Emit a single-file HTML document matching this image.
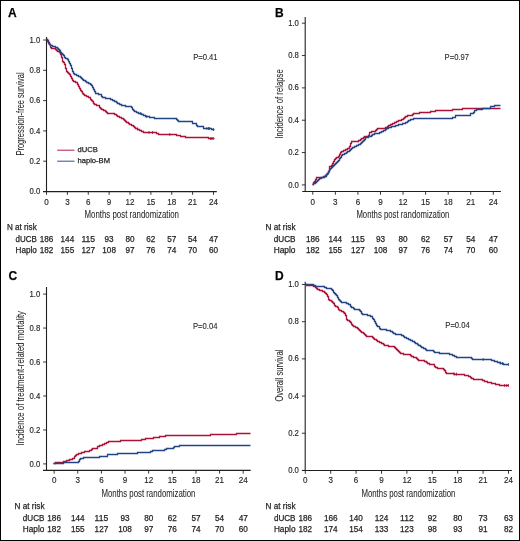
<!DOCTYPE html>
<html><head><meta charset="utf-8"><style>
html,body{margin:0;padding:0;background:#fff;}
body{width:520px;height:541px;overflow:hidden;}
svg{display:block;will-change:transform;}
text{stroke:#231f20;stroke-width:0.25px;font-family:"Liberation Sans",sans-serif;}
</style></head><body>
<svg width="520" height="541" viewBox="0 0 520 541">
<rect x="0.5" y="0.5" width="519" height="540" fill="#fff" stroke="#000" stroke-width="1"/>
<text x="8" y="16.8" font-size="12" font-weight="bold" fill="#000">A</text>
<line x1="46.5" y1="37" x2="46.5" y2="191.6" stroke="#231f20" stroke-width="1.1"/>
<line x1="43.2" y1="191.50" x2="46.5" y2="191.50" stroke="#231f20" stroke-width="0.9"/>
<text x="40.2" y="194.10" font-size="8.6" text-anchor="end" fill="#231f20" style="stroke-width:0.15px" textLength="10.76" lengthAdjust="spacingAndGlyphs">0.0</text>
<line x1="43.2" y1="161.20" x2="46.5" y2="161.20" stroke="#231f20" stroke-width="0.9"/>
<text x="40.2" y="163.80" font-size="8.6" text-anchor="end" fill="#231f20" style="stroke-width:0.15px" textLength="10.76" lengthAdjust="spacingAndGlyphs">0.2</text>
<line x1="43.2" y1="130.90" x2="46.5" y2="130.90" stroke="#231f20" stroke-width="0.9"/>
<text x="40.2" y="133.50" font-size="8.6" text-anchor="end" fill="#231f20" style="stroke-width:0.15px" textLength="10.76" lengthAdjust="spacingAndGlyphs">0.4</text>
<line x1="43.2" y1="100.60" x2="46.5" y2="100.60" stroke="#231f20" stroke-width="0.9"/>
<text x="40.2" y="103.20" font-size="8.6" text-anchor="end" fill="#231f20" style="stroke-width:0.15px" textLength="10.76" lengthAdjust="spacingAndGlyphs">0.6</text>
<line x1="43.2" y1="70.30" x2="46.5" y2="70.30" stroke="#231f20" stroke-width="0.9"/>
<text x="40.2" y="72.90" font-size="8.6" text-anchor="end" fill="#231f20" style="stroke-width:0.15px" textLength="10.76" lengthAdjust="spacingAndGlyphs">0.8</text>
<line x1="43.2" y1="40.00" x2="46.5" y2="40.00" stroke="#231f20" stroke-width="0.9"/>
<text x="40.2" y="42.60" font-size="8.6" text-anchor="end" fill="#231f20" style="stroke-width:0.15px" textLength="10.76" lengthAdjust="spacingAndGlyphs">1.0</text>
<line x1="43" y1="191.6" x2="216.8" y2="191.6" stroke="#231f20" stroke-width="1.1"/>
<line x1="46.50" y1="191.6" x2="46.50" y2="194.79999999999998" stroke="#231f20" stroke-width="0.9"/>
<text x="46.50" y="204.5" font-size="8.8" text-anchor="middle" fill="#231f20" style="stroke-width:0.15px" textLength="4.50" lengthAdjust="spacingAndGlyphs">0</text>
<text x="46.50" y="241.7" font-size="8.6" text-anchor="middle" fill="#231f20" textLength="13.63" lengthAdjust="spacingAndGlyphs">186</text>
<text x="46.50" y="253.0" font-size="8.6" text-anchor="middle" fill="#231f20" textLength="13.63" lengthAdjust="spacingAndGlyphs">182</text>
<line x1="67.38" y1="191.6" x2="67.38" y2="194.79999999999998" stroke="#231f20" stroke-width="0.9"/>
<text x="67.38" y="204.5" font-size="8.8" text-anchor="middle" fill="#231f20" style="stroke-width:0.15px" textLength="4.50" lengthAdjust="spacingAndGlyphs">3</text>
<text x="67.38" y="241.7" font-size="8.6" text-anchor="middle" fill="#231f20" textLength="13.63" lengthAdjust="spacingAndGlyphs">144</text>
<text x="67.38" y="253.0" font-size="8.6" text-anchor="middle" fill="#231f20" textLength="13.63" lengthAdjust="spacingAndGlyphs">155</text>
<line x1="88.25" y1="191.6" x2="88.25" y2="194.79999999999998" stroke="#231f20" stroke-width="0.9"/>
<text x="88.25" y="204.5" font-size="8.8" text-anchor="middle" fill="#231f20" style="stroke-width:0.15px" textLength="4.50" lengthAdjust="spacingAndGlyphs">6</text>
<text x="88.25" y="241.7" font-size="8.6" text-anchor="middle" fill="#231f20" textLength="13.63" lengthAdjust="spacingAndGlyphs">115</text>
<text x="88.25" y="253.0" font-size="8.6" text-anchor="middle" fill="#231f20" textLength="13.63" lengthAdjust="spacingAndGlyphs">127</text>
<line x1="109.12" y1="191.6" x2="109.12" y2="194.79999999999998" stroke="#231f20" stroke-width="0.9"/>
<text x="109.12" y="204.5" font-size="8.8" text-anchor="middle" fill="#231f20" style="stroke-width:0.15px" textLength="4.50" lengthAdjust="spacingAndGlyphs">9</text>
<text x="109.12" y="241.7" font-size="8.6" text-anchor="middle" fill="#231f20" textLength="9.09" lengthAdjust="spacingAndGlyphs">93</text>
<text x="109.12" y="253.0" font-size="8.6" text-anchor="middle" fill="#231f20" textLength="13.63" lengthAdjust="spacingAndGlyphs">108</text>
<line x1="130.00" y1="191.6" x2="130.00" y2="194.79999999999998" stroke="#231f20" stroke-width="0.9"/>
<text x="130.00" y="204.5" font-size="8.8" text-anchor="middle" fill="#231f20" style="stroke-width:0.15px" textLength="9.00" lengthAdjust="spacingAndGlyphs">12</text>
<text x="130.00" y="241.7" font-size="8.6" text-anchor="middle" fill="#231f20" textLength="9.09" lengthAdjust="spacingAndGlyphs">80</text>
<text x="130.00" y="253.0" font-size="8.6" text-anchor="middle" fill="#231f20" textLength="9.09" lengthAdjust="spacingAndGlyphs">97</text>
<line x1="150.88" y1="191.6" x2="150.88" y2="194.79999999999998" stroke="#231f20" stroke-width="0.9"/>
<text x="150.88" y="204.5" font-size="8.8" text-anchor="middle" fill="#231f20" style="stroke-width:0.15px" textLength="9.00" lengthAdjust="spacingAndGlyphs">15</text>
<text x="150.88" y="241.7" font-size="8.6" text-anchor="middle" fill="#231f20" textLength="9.09" lengthAdjust="spacingAndGlyphs">62</text>
<text x="150.88" y="253.0" font-size="8.6" text-anchor="middle" fill="#231f20" textLength="9.09" lengthAdjust="spacingAndGlyphs">76</text>
<line x1="171.75" y1="191.6" x2="171.75" y2="194.79999999999998" stroke="#231f20" stroke-width="0.9"/>
<text x="171.75" y="204.5" font-size="8.8" text-anchor="middle" fill="#231f20" style="stroke-width:0.15px" textLength="9.00" lengthAdjust="spacingAndGlyphs">18</text>
<text x="171.75" y="241.7" font-size="8.6" text-anchor="middle" fill="#231f20" textLength="9.09" lengthAdjust="spacingAndGlyphs">57</text>
<text x="171.75" y="253.0" font-size="8.6" text-anchor="middle" fill="#231f20" textLength="9.09" lengthAdjust="spacingAndGlyphs">74</text>
<line x1="192.62" y1="191.6" x2="192.62" y2="194.79999999999998" stroke="#231f20" stroke-width="0.9"/>
<text x="192.62" y="204.5" font-size="8.8" text-anchor="middle" fill="#231f20" style="stroke-width:0.15px" textLength="9.00" lengthAdjust="spacingAndGlyphs">21</text>
<text x="192.62" y="241.7" font-size="8.6" text-anchor="middle" fill="#231f20" textLength="9.09" lengthAdjust="spacingAndGlyphs">54</text>
<text x="192.62" y="253.0" font-size="8.6" text-anchor="middle" fill="#231f20" textLength="9.09" lengthAdjust="spacingAndGlyphs">70</text>
<line x1="213.50" y1="191.6" x2="213.50" y2="194.79999999999998" stroke="#231f20" stroke-width="0.9"/>
<text x="213.50" y="204.5" font-size="8.8" text-anchor="middle" fill="#231f20" style="stroke-width:0.15px" textLength="9.00" lengthAdjust="spacingAndGlyphs">24</text>
<text x="213.50" y="241.7" font-size="8.6" text-anchor="middle" fill="#231f20" textLength="9.09" lengthAdjust="spacingAndGlyphs">47</text>
<text x="213.50" y="253.0" font-size="8.6" text-anchor="middle" fill="#231f20" textLength="9.09" lengthAdjust="spacingAndGlyphs">60</text>
<text x="131.75" y="218" font-size="10.2" style="stroke-width:0.05px" text-anchor="middle" fill="#231f20" textLength="94.5" lengthAdjust="spacingAndGlyphs">Months post randomization</text>
<text x="21.80" y="229.5" font-size="8.6" text-anchor="middle" fill="#231f20" textLength="29.8" lengthAdjust="spacingAndGlyphs">N at risk</text>
<text x="26.15" y="241.7" font-size="8.6" text-anchor="middle" fill="#231f20" textLength="21.3" lengthAdjust="spacingAndGlyphs">dUCB</text>
<text x="26.15" y="253.0" font-size="8.6" text-anchor="middle" fill="#231f20" textLength="21.3" lengthAdjust="spacingAndGlyphs">Haplo</text>
<text transform="translate(24,114.00) rotate(-90)" x="0" y="0" font-size="10.2" style="stroke-width:0.05px" text-anchor="middle" fill="#231f20" textLength="83.2" lengthAdjust="spacingAndGlyphs">Progression-free survival</text>
<text x="193.2" y="59.5" font-size="8.3" fill="#231f20" style="stroke-width:0.1px" textLength="24.4" lengthAdjust="spacingAndGlyphs">P=0.41</text>
<path d="M46.5,39.5H47.5V40.5H48.5V41.5H48.5V42.5H49.5V43.5H49.5V44.5H50.5V45.5H50.5V46.5H50.5V47.5H51.5V48.5H52.5V48.5H53.5V48.5H54.5V48.5H55.5V49.5H56.5V50.5H57.5V51.5H58.5V51.5H59.5V52.5H60.5V53.5H60.5V54.5H61.5V55.5H61.5V56.5H61.5V57.5H62.5V58.5H62.5V59.5H62.5V60.5H62.5V61.5H63.5V62.5H64.5V62.5H64.5V63.5H64.5V64.5H65.5V65.5H65.5V66.5H65.5V67.5H65.5V68.5H66.5V69.5H66.5V70.5H66.5V71.5H67.5V72.5H68.5V73.5H69.5V74.5H70.5V75.5H70.5V76.5H71.5V77.5H71.5V78.5H72.5V79.5H72.5V80.5H73.5V81.5H74.5V81.5H75.5V82.5H76.5V82.5H77.5V83.5H77.5V84.5H78.5V85.5H78.5V86.5H79.5V87.5H79.5V88.5H80.5V89.5H80.5V90.5H81.5V91.5H82.5V92.5H82.5V93.5H83.5V94.5H84.5V95.5H85.5V95.5H86.5V96.5H87.5V96.5H88.5V97.5H89.5V97.5H90.5V98.5H90.5V99.5H91.5V100.5H92.5V101.5H93.5V102.5H93.5V103.5H94.5V104.5H95.5V104.5H96.5V105.5H97.5V105.5H98.5V105.5H99.5V106.5H99.5V107.5H100.5V108.5H101.5V109.5H102.5V109.5H103.5V110.5H104.5V110.5H105.5V111.5H106.5V112.5H107.5V113.5H108.5V113.5H109.5V113.5H110.5V113.5H111.5V113.5H112.5V113.5H113.5V113.5H114.5V114.5H115.5V114.5H116.5V115.5H117.5V116.5H118.5V116.5H119.5V117.5H120.5V117.5H121.5V118.5H122.5V118.5H123.5V119.5H124.5V120.5H125.5V121.5H126.5V122.5H127.5V122.5H128.5V123.5H129.5V124.5H130.5V124.5H131.5V125.5H132.5V125.5H133.5V126.5H134.5V127.5H135.5V128.5H136.5V128.5H137.5V129.5H138.5V129.5H139.5V130.5H140.5V130.5H141.5V131.5H142.5V131.5H143.5V132.5H144.5V132.5H145.5V132.5H146.5V132.5H147.5V132.5H148.5V132.5H149.5V132.5H150.5V132.5H151.5V132.5H152.5V132.5H153.5V132.5H154.5V132.5H155.5V132.5H156.5V133.5H157.5V133.5H158.5V134.5H159.5V134.5H160.5V134.5H161.5V134.5H162.5V134.5H163.5V134.5H164.5V134.5H165.5V134.5H166.5V134.5H167.5V134.5H168.5V134.5H169.5V134.5H170.5V134.5H171.5V134.5H172.5V134.5H173.5V134.5H174.5V134.5H175.5V134.5H176.5V135.5H177.5V135.5H178.5V135.5H179.5V135.5H180.5V136.5H181.5V136.5H182.5V136.5H183.5V136.5H184.5V136.5H185.5V137.5H186.5V137.5H187.5V137.5H188.5V137.5H189.5V137.5H190.5V137.5H191.5V137.5H192.5V137.5H193.5V137.5H194.5V137.5H195.5V137.5H196.5V137.5H197.5V137.5H198.5V137.5H199.5V137.5H200.5V137.5H201.5V137.5H202.5V137.5H203.5V137.5H204.5V137.5H205.5V137.5H206.5V137.5H207.5V137.5H208.5V138.5H209.5V138.5H210.5V138.5H211.5V138.5H212.5V138.5H213.5V138.5H214.5V138.5" fill="none" stroke="#ad1038" stroke-width="1.3" stroke-linejoin="miter"/>
<path d="M137.5,127.6V130.4M149.0,131.1V133.9M152.5,131.1V133.9M169.8,133.1V135.9M210.6,137.1V139.9M211.8,137.1V139.9M213.1,137.1V139.9" fill="none" stroke="#ad1038" stroke-width="0.9"/>
<path d="M46.5,39.5H47.5V40.5H47.5V41.5H48.5V42.5H48.5V43.5H49.5V44.5H50.5V45.5H51.5V45.5H52.5V46.5H53.5V46.5H54.5V46.5H55.5V47.5H56.5V47.5H57.5V48.5H58.5V49.5H59.5V50.5H60.5V51.5H60.5V52.5H61.5V53.5H62.5V54.5H63.5V55.5H64.5V56.5H64.5V57.5H65.5V58.5H66.5V58.5H67.5V59.5H68.5V60.5H68.5V61.5H69.5V62.5H69.5V63.5H70.5V64.5H70.5V65.5H71.5V66.5H71.5V67.5H71.5V68.5H72.5V69.5H72.5V70.5H72.5V71.5H73.5V72.5H73.5V73.5H74.5V74.5H75.5V74.5H76.5V75.5H77.5V75.5H78.5V76.5H79.5V76.5H80.5V77.5H81.5V78.5H82.5V79.5H83.5V80.5H84.5V80.5H85.5V81.5H86.5V82.5H87.5V82.5H88.5V83.5H89.5V83.5H90.5V84.5H91.5V85.5H92.5V86.5H92.5V87.5H93.5V88.5H93.5V89.5H94.5V90.5H94.5V91.5H95.5V92.5H95.5V93.5H96.5V93.5H97.5V93.5H98.5V94.5H99.5V94.5H100.5V94.5H101.5V95.5H101.5V96.5H102.5V97.5H103.5V97.5H104.5V97.5H105.5V98.5H106.5V98.5H107.5V98.5H108.5V98.5H109.5V98.5H110.5V99.5H111.5V99.5H112.5V100.5H113.5V100.5H114.5V101.5H115.5V101.5H116.5V102.5H117.5V103.5H118.5V103.5H119.5V104.5H120.5V104.5H121.5V105.5H122.5V105.5H123.5V105.5H124.5V105.5H125.5V106.5H126.5V106.5H127.5V106.5H128.5V106.5H129.5V106.5H130.5V106.5H131.5V107.5H132.5V108.5H132.5V109.5H133.5V110.5H134.5V111.5H135.5V111.5H136.5V112.5H137.5V112.5H138.5V113.5H139.5V113.5H140.5V113.5H141.5V114.5H142.5V114.5H143.5V115.5H144.5V115.5H145.5V116.5H146.5V116.5H147.5V116.5H148.5V116.5H149.5V117.5H150.5V117.5H151.5V117.5H152.5V117.5H153.5V117.5H154.5V118.5H155.5V118.5H156.5V118.5H157.5V118.5H158.5V118.5H159.5V118.5H160.5V118.5H161.5V118.5H162.5V118.5H163.5V118.5H164.5V118.5H165.5V118.5H166.5V118.5H167.5V118.5H168.5V118.5H169.5V118.5H170.5V118.5H171.5V118.5H172.5V118.5H173.5V118.5H174.5V118.5H175.5V118.5H176.5V119.5H177.5V120.5H178.5V121.5H179.5V121.5H180.5V121.5H181.5V121.5H182.5V121.5H183.5V121.5H184.5V121.5H185.5V121.5H186.5V121.5H187.5V121.5H188.5V121.5H189.5V121.5H190.5V121.5H191.5V121.5H192.5V121.5H192.5V122.5H192.5V123.5H193.5V123.5H194.5V123.5H195.5V123.5H196.5V124.5H196.5V125.5H197.5V126.5H198.5V126.5H199.5V126.5H200.5V126.5H201.5V126.5H202.5V126.5H203.5V127.5H203.5V128.5H204.5V128.5H205.5V128.5H206.5V128.5H207.5V128.5H208.5V128.5H209.5V128.5H210.5V128.5H211.5V129.5H212.5V129.5H213.5V129.5H214.5V129.5" fill="none" stroke="#234585" stroke-width="1.3" stroke-linejoin="miter"/>
<path d="M140.4,112.1V114.9M146.7,115.3V118.1M206.9,127.1V129.9M208.5,127.1V129.9M209.4,127.1V129.9M213.4,128.1V130.9" fill="none" stroke="#234585" stroke-width="0.9"/>
<text x="275" y="16.5" font-size="12" font-weight="bold" fill="#000">B</text>
<line x1="305.2" y1="17" x2="305.2" y2="191.5" stroke="#231f20" stroke-width="1.1"/>
<line x1="301.9" y1="184.90" x2="305.2" y2="184.90" stroke="#231f20" stroke-width="0.9"/>
<text x="298.9" y="187.50" font-size="8.6" text-anchor="end" fill="#231f20" style="stroke-width:0.15px" textLength="10.76" lengthAdjust="spacingAndGlyphs">0.0</text>
<line x1="301.9" y1="152.56" x2="305.2" y2="152.56" stroke="#231f20" stroke-width="0.9"/>
<text x="298.9" y="155.16" font-size="8.6" text-anchor="end" fill="#231f20" style="stroke-width:0.15px" textLength="10.76" lengthAdjust="spacingAndGlyphs">0.2</text>
<line x1="301.9" y1="120.22" x2="305.2" y2="120.22" stroke="#231f20" stroke-width="0.9"/>
<text x="298.9" y="122.82" font-size="8.6" text-anchor="end" fill="#231f20" style="stroke-width:0.15px" textLength="10.76" lengthAdjust="spacingAndGlyphs">0.4</text>
<line x1="301.9" y1="87.88" x2="305.2" y2="87.88" stroke="#231f20" stroke-width="0.9"/>
<text x="298.9" y="90.48" font-size="8.6" text-anchor="end" fill="#231f20" style="stroke-width:0.15px" textLength="10.76" lengthAdjust="spacingAndGlyphs">0.6</text>
<line x1="301.9" y1="55.54" x2="305.2" y2="55.54" stroke="#231f20" stroke-width="0.9"/>
<text x="298.9" y="58.14" font-size="8.6" text-anchor="end" fill="#231f20" style="stroke-width:0.15px" textLength="10.76" lengthAdjust="spacingAndGlyphs">0.8</text>
<line x1="301.9" y1="23.20" x2="305.2" y2="23.20" stroke="#231f20" stroke-width="0.9"/>
<text x="298.9" y="25.80" font-size="8.6" text-anchor="end" fill="#231f20" style="stroke-width:0.15px" textLength="10.76" lengthAdjust="spacingAndGlyphs">1.0</text>
<line x1="302.2" y1="191.5" x2="500.9" y2="191.5" stroke="#231f20" stroke-width="1.1"/>
<line x1="312.80" y1="191.5" x2="312.80" y2="194.7" stroke="#231f20" stroke-width="0.9"/>
<text x="312.80" y="204.5" font-size="8.8" text-anchor="middle" fill="#231f20" style="stroke-width:0.15px" textLength="4.50" lengthAdjust="spacingAndGlyphs">0</text>
<text x="312.80" y="241.7" font-size="8.6" text-anchor="middle" fill="#231f20" textLength="13.63" lengthAdjust="spacingAndGlyphs">186</text>
<text x="312.80" y="253.0" font-size="8.6" text-anchor="middle" fill="#231f20" textLength="13.63" lengthAdjust="spacingAndGlyphs">182</text>
<line x1="335.36" y1="191.5" x2="335.36" y2="194.7" stroke="#231f20" stroke-width="0.9"/>
<text x="335.36" y="204.5" font-size="8.8" text-anchor="middle" fill="#231f20" style="stroke-width:0.15px" textLength="4.50" lengthAdjust="spacingAndGlyphs">3</text>
<text x="335.36" y="241.7" font-size="8.6" text-anchor="middle" fill="#231f20" textLength="13.63" lengthAdjust="spacingAndGlyphs">144</text>
<text x="335.36" y="253.0" font-size="8.6" text-anchor="middle" fill="#231f20" textLength="13.63" lengthAdjust="spacingAndGlyphs">155</text>
<line x1="357.93" y1="191.5" x2="357.93" y2="194.7" stroke="#231f20" stroke-width="0.9"/>
<text x="357.93" y="204.5" font-size="8.8" text-anchor="middle" fill="#231f20" style="stroke-width:0.15px" textLength="4.50" lengthAdjust="spacingAndGlyphs">6</text>
<text x="357.93" y="241.7" font-size="8.6" text-anchor="middle" fill="#231f20" textLength="13.63" lengthAdjust="spacingAndGlyphs">115</text>
<text x="357.93" y="253.0" font-size="8.6" text-anchor="middle" fill="#231f20" textLength="13.63" lengthAdjust="spacingAndGlyphs">127</text>
<line x1="380.49" y1="191.5" x2="380.49" y2="194.7" stroke="#231f20" stroke-width="0.9"/>
<text x="380.49" y="204.5" font-size="8.8" text-anchor="middle" fill="#231f20" style="stroke-width:0.15px" textLength="4.50" lengthAdjust="spacingAndGlyphs">9</text>
<text x="380.49" y="241.7" font-size="8.6" text-anchor="middle" fill="#231f20" textLength="9.09" lengthAdjust="spacingAndGlyphs">93</text>
<text x="380.49" y="253.0" font-size="8.6" text-anchor="middle" fill="#231f20" textLength="13.63" lengthAdjust="spacingAndGlyphs">108</text>
<line x1="403.05" y1="191.5" x2="403.05" y2="194.7" stroke="#231f20" stroke-width="0.9"/>
<text x="403.05" y="204.5" font-size="8.8" text-anchor="middle" fill="#231f20" style="stroke-width:0.15px" textLength="9.00" lengthAdjust="spacingAndGlyphs">12</text>
<text x="403.05" y="241.7" font-size="8.6" text-anchor="middle" fill="#231f20" textLength="9.09" lengthAdjust="spacingAndGlyphs">80</text>
<text x="403.05" y="253.0" font-size="8.6" text-anchor="middle" fill="#231f20" textLength="9.09" lengthAdjust="spacingAndGlyphs">97</text>
<line x1="425.61" y1="191.5" x2="425.61" y2="194.7" stroke="#231f20" stroke-width="0.9"/>
<text x="425.61" y="204.5" font-size="8.8" text-anchor="middle" fill="#231f20" style="stroke-width:0.15px" textLength="9.00" lengthAdjust="spacingAndGlyphs">15</text>
<text x="425.61" y="241.7" font-size="8.6" text-anchor="middle" fill="#231f20" textLength="9.09" lengthAdjust="spacingAndGlyphs">62</text>
<text x="425.61" y="253.0" font-size="8.6" text-anchor="middle" fill="#231f20" textLength="9.09" lengthAdjust="spacingAndGlyphs">76</text>
<line x1="448.18" y1="191.5" x2="448.18" y2="194.7" stroke="#231f20" stroke-width="0.9"/>
<text x="448.18" y="204.5" font-size="8.8" text-anchor="middle" fill="#231f20" style="stroke-width:0.15px" textLength="9.00" lengthAdjust="spacingAndGlyphs">18</text>
<text x="448.18" y="241.7" font-size="8.6" text-anchor="middle" fill="#231f20" textLength="9.09" lengthAdjust="spacingAndGlyphs">57</text>
<text x="448.18" y="253.0" font-size="8.6" text-anchor="middle" fill="#231f20" textLength="9.09" lengthAdjust="spacingAndGlyphs">74</text>
<line x1="470.74" y1="191.5" x2="470.74" y2="194.7" stroke="#231f20" stroke-width="0.9"/>
<text x="470.74" y="204.5" font-size="8.8" text-anchor="middle" fill="#231f20" style="stroke-width:0.15px" textLength="9.00" lengthAdjust="spacingAndGlyphs">21</text>
<text x="470.74" y="241.7" font-size="8.6" text-anchor="middle" fill="#231f20" textLength="9.09" lengthAdjust="spacingAndGlyphs">54</text>
<text x="470.74" y="253.0" font-size="8.6" text-anchor="middle" fill="#231f20" textLength="9.09" lengthAdjust="spacingAndGlyphs">70</text>
<line x1="493.30" y1="191.5" x2="493.30" y2="194.7" stroke="#231f20" stroke-width="0.9"/>
<text x="493.30" y="204.5" font-size="8.8" text-anchor="middle" fill="#231f20" style="stroke-width:0.15px" textLength="9.00" lengthAdjust="spacingAndGlyphs">24</text>
<text x="493.30" y="241.7" font-size="8.6" text-anchor="middle" fill="#231f20" textLength="9.09" lengthAdjust="spacingAndGlyphs">47</text>
<text x="493.30" y="253.0" font-size="8.6" text-anchor="middle" fill="#231f20" textLength="9.09" lengthAdjust="spacingAndGlyphs">60</text>
<text x="402.90" y="218" font-size="10.2" style="stroke-width:0.05px" text-anchor="middle" fill="#231f20" textLength="93.0" lengthAdjust="spacingAndGlyphs">Months post randomization</text>
<text x="280.52" y="229.5" font-size="8.6" text-anchor="middle" fill="#231f20" textLength="29.9" lengthAdjust="spacingAndGlyphs">N at risk</text>
<text x="284.60" y="241.7" font-size="8.6" text-anchor="middle" fill="#231f20" textLength="21.8" lengthAdjust="spacingAndGlyphs">dUCB</text>
<text x="284.60" y="253.0" font-size="8.6" text-anchor="middle" fill="#231f20" textLength="21.8" lengthAdjust="spacingAndGlyphs">Haplo</text>
<text transform="translate(282.5,103.95) rotate(-90)" x="0" y="0" font-size="10.2" style="stroke-width:0.05px" text-anchor="middle" fill="#231f20" textLength="69.3" lengthAdjust="spacingAndGlyphs">Incidence of relapse</text>
<text x="444.6" y="59.6" font-size="8.3" fill="#231f20" style="stroke-width:0.1px" textLength="24.4" lengthAdjust="spacingAndGlyphs">P=0.97</text>
<path d="M312.5,184.5H313.5V183.5H313.5V182.5H314.5V181.5H315.5V180.5H315.5V179.5H316.5V178.5H316.5V177.5H317.5V177.5H318.5V177.5H319.5V177.5H320.5V177.5H321.5V177.5H322.5V177.5H323.5V176.5H324.5V176.5H325.5V175.5H326.5V174.5H327.5V173.5H328.5V172.5H328.5V171.5H329.5V170.5H329.5V169.5H329.5V168.5H329.5V167.5H329.5V166.5H330.5V166.5H331.5V166.5H331.5V165.5H332.5V164.5H332.5V163.5H333.5V162.5H333.5V161.5H334.5V160.5H334.5V159.5H335.5V158.5H336.5V157.5H337.5V157.5H338.5V156.5H339.5V155.5H339.5V154.5H340.5V153.5H340.5V152.5H341.5V151.5H342.5V151.5H343.5V150.5H344.5V150.5H345.5V149.5H346.5V149.5H347.5V148.5H348.5V148.5H349.5V147.5H349.5V146.5H350.5V145.5H350.5V144.5H350.5V143.5H351.5V142.5H351.5V141.5H352.5V141.5H353.5V141.5H354.5V141.5H355.5V141.5H356.5V141.5H357.5V141.5H358.5V140.5H359.5V140.5H360.5V139.5H361.5V138.5H362.5V138.5H363.5V137.5H364.5V136.5H365.5V136.5H366.5V136.5H367.5V136.5H368.5V136.5H368.5V135.5H369.5V134.5H369.5V133.5H369.5V132.5H370.5V132.5H371.5V131.5H372.5V131.5H373.5V131.5H374.5V131.5H375.5V130.5H376.5V129.5H377.5V128.5H378.5V128.5H379.5V128.5H380.5V128.5H381.5V128.5H382.5V128.5H383.5V128.5H384.5V128.5H385.5V127.5H386.5V127.5H387.5V126.5H388.5V125.5H389.5V125.5H390.5V124.5H391.5V124.5H392.5V123.5H393.5V123.5H394.5V122.5H395.5V122.5H396.5V121.5H397.5V121.5H398.5V120.5H399.5V120.5H400.5V120.5H401.5V119.5H402.5V119.5H403.5V118.5H404.5V117.5H405.5V116.5H406.5V116.5H407.5V115.5H408.5V115.5H409.5V115.5H410.5V115.5H411.5V115.5H412.5V114.5H413.5V113.5H414.5V113.5H415.5V113.5H416.5V113.5H417.5V113.5H418.5V113.5H419.5V112.5H420.5V112.5H421.5V112.5H422.5V112.5H423.5V112.5H424.5V112.5H425.5V112.5H426.5V112.5H427.5V112.5H428.5V112.5H429.5V112.5H430.5V111.5H431.5V111.5H432.5V111.5H433.5V111.5H434.5V111.5H435.5V110.5H436.5V110.5H437.5V110.5H438.5V110.5H439.5V110.5H440.5V110.5H441.5V110.5H442.5V110.5H443.5V110.5H444.5V110.5H445.5V110.5H446.5V110.5H447.5V110.5H448.5V110.5H449.5V110.5H450.5V110.5H451.5V110.5H452.5V109.5H453.5V109.5H454.5V109.5H455.5V109.5H456.5V109.5H457.5V109.5H458.5V109.5H459.5V109.5H460.5V109.5H461.5V109.5H462.5V108.5H463.5V108.5H464.5V108.5H465.5V108.5H466.5V108.5H467.5V108.5H468.5V108.5H469.5V108.5H470.5V108.5H471.5V108.5H472.5V108.5H473.5V108.5H474.5V108.5H475.5V108.5H476.5V108.5H477.5V108.5H478.5V108.5H479.5V108.5H480.5V108.5H481.5V108.5H482.5V108.5H483.5V108.5H484.5V108.5H485.5V108.5H486.5V108.5H487.5V108.5H488.5V108.5H489.5V108.5H490.5V108.5H491.5V108.5H492.5V108.5H493.5V108.5H494.5V108.5H495.5V108.5H496.5V108.5H497.5V108.5H498.5V108.5H499.5V108.5H500.5V108.5" fill="none" stroke="#ad1038" stroke-width="1.3" stroke-linejoin="miter"/>
<path d="M312.5,184.5H313.5V183.5H314.5V183.5H315.5V182.5H316.5V181.5H317.5V180.5H318.5V179.5H319.5V178.5H320.5V178.5H321.5V177.5H322.5V177.5H323.5V177.5H324.5V176.5H325.5V176.5H326.5V175.5H326.5V174.5H327.5V173.5H328.5V172.5H328.5V171.5H329.5V170.5H329.5V169.5H330.5V168.5H331.5V167.5H332.5V166.5H333.5V165.5H334.5V164.5H335.5V163.5H336.5V162.5H337.5V161.5H338.5V160.5H339.5V159.5H339.5V158.5H340.5V157.5H341.5V156.5H341.5V155.5H342.5V154.5H343.5V154.5H344.5V153.5H345.5V153.5H346.5V152.5H347.5V151.5H348.5V151.5H349.5V150.5H350.5V149.5H351.5V148.5H352.5V147.5H353.5V147.5H354.5V146.5H355.5V146.5H356.5V145.5H357.5V145.5H358.5V144.5H359.5V144.5H360.5V143.5H361.5V142.5H362.5V141.5H363.5V140.5H364.5V139.5H365.5V138.5H365.5V137.5H366.5V137.5H367.5V137.5H368.5V136.5H369.5V136.5H370.5V136.5H371.5V135.5H372.5V134.5H373.5V134.5H374.5V133.5H375.5V133.5H376.5V133.5H377.5V133.5H378.5V133.5H379.5V132.5H380.5V132.5H381.5V131.5H382.5V131.5H383.5V130.5H384.5V130.5H385.5V129.5H386.5V128.5H387.5V128.5H388.5V127.5H389.5V127.5H390.5V127.5H391.5V126.5H392.5V126.5H393.5V126.5H394.5V126.5H395.5V125.5H396.5V125.5H397.5V125.5H398.5V124.5H399.5V124.5H400.5V124.5H401.5V124.5H402.5V123.5H403.5V123.5H404.5V123.5H405.5V122.5H406.5V122.5H407.5V121.5H408.5V120.5H409.5V120.5H410.5V119.5H411.5V119.5H412.5V119.5H413.5V118.5H414.5V118.5H415.5V118.5H416.5V118.5H417.5V118.5H418.5V118.5H419.5V118.5H420.5V118.5H421.5V118.5H422.5V118.5H423.5V118.5H424.5V118.5H425.5V118.5H426.5V118.5H427.5V118.5H428.5V118.5H429.5V118.5H430.5V118.5H431.5V118.5H432.5V118.5H433.5V118.5H434.5V118.5H435.5V118.5H436.5V118.5H437.5V118.5H438.5V118.5H439.5V118.5H440.5V118.5H441.5V118.5H442.5V118.5H443.5V118.5H444.5V118.5H445.5V118.5H446.5V118.5H447.5V118.5H448.5V118.5H449.5V118.5H450.5V118.5H451.5V118.5H452.5V117.5H453.5V117.5H454.5V117.5H455.5V116.5H455.5V115.5H456.5V115.5H457.5V115.5H458.5V115.5H459.5V115.5H460.5V115.5H461.5V115.5H462.5V115.5H463.5V115.5H464.5V115.5H465.5V115.5H466.5V115.5H467.5V115.5H468.5V115.5H469.5V115.5H470.5V114.5H470.5V113.5H471.5V113.5H472.5V113.5H473.5V112.5H474.5V111.5H474.5V110.5H475.5V110.5H476.5V109.5H477.5V109.5H478.5V109.5H479.5V109.5H480.5V109.5H481.5V109.5H482.5V108.5H483.5V108.5H484.5V108.5H485.5V108.5H486.5V108.5H487.5V108.5H488.5V108.5H489.5V108.5H490.5V107.5H490.5V106.5H491.5V106.5H492.5V106.5H493.5V106.5H494.5V105.5H495.5V105.5H496.5V105.5H497.5V105.5H498.5V105.5H499.5V105.5H500.5V105.5" fill="none" stroke="#234585" stroke-width="1.3" stroke-linejoin="miter"/>
<text x="8.5" y="280" font-size="12" font-weight="bold" fill="#000">C</text>
<line x1="46.5" y1="287" x2="46.5" y2="470.4" stroke="#231f20" stroke-width="1.1"/>
<line x1="43.2" y1="463.90" x2="46.5" y2="463.90" stroke="#231f20" stroke-width="0.9"/>
<text x="40.2" y="466.50" font-size="8.6" text-anchor="end" fill="#231f20" style="stroke-width:0.15px" textLength="10.76" lengthAdjust="spacingAndGlyphs">0.0</text>
<line x1="43.2" y1="429.94" x2="46.5" y2="429.94" stroke="#231f20" stroke-width="0.9"/>
<text x="40.2" y="432.54" font-size="8.6" text-anchor="end" fill="#231f20" style="stroke-width:0.15px" textLength="10.76" lengthAdjust="spacingAndGlyphs">0.2</text>
<line x1="43.2" y1="395.98" x2="46.5" y2="395.98" stroke="#231f20" stroke-width="0.9"/>
<text x="40.2" y="398.58" font-size="8.6" text-anchor="end" fill="#231f20" style="stroke-width:0.15px" textLength="10.76" lengthAdjust="spacingAndGlyphs">0.4</text>
<line x1="43.2" y1="362.02" x2="46.5" y2="362.02" stroke="#231f20" stroke-width="0.9"/>
<text x="40.2" y="364.62" font-size="8.6" text-anchor="end" fill="#231f20" style="stroke-width:0.15px" textLength="10.76" lengthAdjust="spacingAndGlyphs">0.6</text>
<line x1="43.2" y1="328.06" x2="46.5" y2="328.06" stroke="#231f20" stroke-width="0.9"/>
<text x="40.2" y="330.66" font-size="8.6" text-anchor="end" fill="#231f20" style="stroke-width:0.15px" textLength="10.76" lengthAdjust="spacingAndGlyphs">0.8</text>
<line x1="43.2" y1="294.10" x2="46.5" y2="294.10" stroke="#231f20" stroke-width="0.9"/>
<text x="40.2" y="296.70" font-size="8.6" text-anchor="end" fill="#231f20" style="stroke-width:0.15px" textLength="10.76" lengthAdjust="spacingAndGlyphs">1.0</text>
<line x1="43" y1="470.4" x2="250.7" y2="470.4" stroke="#231f20" stroke-width="1.1"/>
<line x1="54.15" y1="470.4" x2="54.15" y2="473.59999999999997" stroke="#231f20" stroke-width="0.9"/>
<text x="54.15" y="483.2" font-size="8.8" text-anchor="middle" fill="#231f20" style="stroke-width:0.15px" textLength="4.50" lengthAdjust="spacingAndGlyphs">0</text>
<text x="54.15" y="521" font-size="8.6" text-anchor="middle" fill="#231f20" textLength="13.63" lengthAdjust="spacingAndGlyphs">186</text>
<text x="54.15" y="532" font-size="8.6" text-anchor="middle" fill="#231f20" textLength="13.63" lengthAdjust="spacingAndGlyphs">182</text>
<line x1="77.78" y1="470.4" x2="77.78" y2="473.59999999999997" stroke="#231f20" stroke-width="0.9"/>
<text x="77.78" y="483.2" font-size="8.8" text-anchor="middle" fill="#231f20" style="stroke-width:0.15px" textLength="4.50" lengthAdjust="spacingAndGlyphs">3</text>
<text x="77.78" y="521" font-size="8.6" text-anchor="middle" fill="#231f20" textLength="13.63" lengthAdjust="spacingAndGlyphs">144</text>
<text x="77.78" y="532" font-size="8.6" text-anchor="middle" fill="#231f20" textLength="13.63" lengthAdjust="spacingAndGlyphs">155</text>
<line x1="101.41" y1="470.4" x2="101.41" y2="473.59999999999997" stroke="#231f20" stroke-width="0.9"/>
<text x="101.41" y="483.2" font-size="8.8" text-anchor="middle" fill="#231f20" style="stroke-width:0.15px" textLength="4.50" lengthAdjust="spacingAndGlyphs">6</text>
<text x="101.41" y="521" font-size="8.6" text-anchor="middle" fill="#231f20" textLength="13.63" lengthAdjust="spacingAndGlyphs">115</text>
<text x="101.41" y="532" font-size="8.6" text-anchor="middle" fill="#231f20" textLength="13.63" lengthAdjust="spacingAndGlyphs">127</text>
<line x1="125.04" y1="470.4" x2="125.04" y2="473.59999999999997" stroke="#231f20" stroke-width="0.9"/>
<text x="125.04" y="483.2" font-size="8.8" text-anchor="middle" fill="#231f20" style="stroke-width:0.15px" textLength="4.50" lengthAdjust="spacingAndGlyphs">9</text>
<text x="125.04" y="521" font-size="8.6" text-anchor="middle" fill="#231f20" textLength="9.09" lengthAdjust="spacingAndGlyphs">93</text>
<text x="125.04" y="532" font-size="8.6" text-anchor="middle" fill="#231f20" textLength="13.63" lengthAdjust="spacingAndGlyphs">108</text>
<line x1="148.67" y1="470.4" x2="148.67" y2="473.59999999999997" stroke="#231f20" stroke-width="0.9"/>
<text x="148.67" y="483.2" font-size="8.8" text-anchor="middle" fill="#231f20" style="stroke-width:0.15px" textLength="9.00" lengthAdjust="spacingAndGlyphs">12</text>
<text x="148.67" y="521" font-size="8.6" text-anchor="middle" fill="#231f20" textLength="9.09" lengthAdjust="spacingAndGlyphs">80</text>
<text x="148.67" y="532" font-size="8.6" text-anchor="middle" fill="#231f20" textLength="9.09" lengthAdjust="spacingAndGlyphs">97</text>
<line x1="172.31" y1="470.4" x2="172.31" y2="473.59999999999997" stroke="#231f20" stroke-width="0.9"/>
<text x="172.31" y="483.2" font-size="8.8" text-anchor="middle" fill="#231f20" style="stroke-width:0.15px" textLength="9.00" lengthAdjust="spacingAndGlyphs">15</text>
<text x="172.31" y="521" font-size="8.6" text-anchor="middle" fill="#231f20" textLength="9.09" lengthAdjust="spacingAndGlyphs">62</text>
<text x="172.31" y="532" font-size="8.6" text-anchor="middle" fill="#231f20" textLength="9.09" lengthAdjust="spacingAndGlyphs">76</text>
<line x1="195.94" y1="470.4" x2="195.94" y2="473.59999999999997" stroke="#231f20" stroke-width="0.9"/>
<text x="195.94" y="483.2" font-size="8.8" text-anchor="middle" fill="#231f20" style="stroke-width:0.15px" textLength="9.00" lengthAdjust="spacingAndGlyphs">18</text>
<text x="195.94" y="521" font-size="8.6" text-anchor="middle" fill="#231f20" textLength="9.09" lengthAdjust="spacingAndGlyphs">57</text>
<text x="195.94" y="532" font-size="8.6" text-anchor="middle" fill="#231f20" textLength="9.09" lengthAdjust="spacingAndGlyphs">74</text>
<line x1="219.57" y1="470.4" x2="219.57" y2="473.59999999999997" stroke="#231f20" stroke-width="0.9"/>
<text x="219.57" y="483.2" font-size="8.8" text-anchor="middle" fill="#231f20" style="stroke-width:0.15px" textLength="9.00" lengthAdjust="spacingAndGlyphs">21</text>
<text x="219.57" y="521" font-size="8.6" text-anchor="middle" fill="#231f20" textLength="9.09" lengthAdjust="spacingAndGlyphs">54</text>
<text x="219.57" y="532" font-size="8.6" text-anchor="middle" fill="#231f20" textLength="9.09" lengthAdjust="spacingAndGlyphs">70</text>
<line x1="243.20" y1="470.4" x2="243.20" y2="473.59999999999997" stroke="#231f20" stroke-width="0.9"/>
<text x="243.20" y="483.2" font-size="8.8" text-anchor="middle" fill="#231f20" style="stroke-width:0.15px" textLength="9.00" lengthAdjust="spacingAndGlyphs">24</text>
<text x="243.20" y="521" font-size="8.6" text-anchor="middle" fill="#231f20" textLength="9.09" lengthAdjust="spacingAndGlyphs">47</text>
<text x="243.20" y="532" font-size="8.6" text-anchor="middle" fill="#231f20" textLength="9.09" lengthAdjust="spacingAndGlyphs">60</text>
<text x="148.45" y="497" font-size="10.2" style="stroke-width:0.05px" text-anchor="middle" fill="#231f20" textLength="94.1" lengthAdjust="spacingAndGlyphs">Months post randomization</text>
<text x="29.50" y="509.2" font-size="8.6" text-anchor="middle" fill="#231f20" textLength="30.0" lengthAdjust="spacingAndGlyphs">N at risk</text>
<text x="33.60" y="521" font-size="8.6" text-anchor="middle" fill="#231f20" textLength="21.6" lengthAdjust="spacingAndGlyphs">dUCB</text>
<text x="33.60" y="532" font-size="8.6" text-anchor="middle" fill="#231f20" textLength="21.6" lengthAdjust="spacingAndGlyphs">Haplo</text>
<text transform="translate(23.7,378.27) rotate(-90)" x="0" y="0" font-size="10.2" style="stroke-width:0.05px" text-anchor="middle" fill="#231f20" textLength="134.5" lengthAdjust="spacingAndGlyphs">Incidence of treatment-related mortality</text>
<text x="193.0" y="329.0" font-size="8.3" fill="#231f20" style="stroke-width:0.1px" textLength="24.4" lengthAdjust="spacingAndGlyphs">P=0.04</text>
<path d="M53.5,463.5H54.5V463.5H55.5V462.5H56.5V462.5H57.5V462.5H58.5V462.5H59.5V462.5H60.5V462.5H61.5V462.5H62.5V462.5H63.5V461.5H64.5V461.5H65.5V461.5H66.5V460.5H67.5V460.5H68.5V460.5H69.5V459.5H70.5V459.5H71.5V459.5H72.5V458.5H73.5V458.5H74.5V457.5H74.5V456.5H75.5V455.5H76.5V454.5H77.5V454.5H78.5V453.5H79.5V453.5H80.5V453.5H81.5V452.5H82.5V452.5H83.5V452.5H84.5V451.5H85.5V451.5H86.5V451.5H87.5V451.5H88.5V451.5H89.5V450.5H90.5V450.5H91.5V449.5H92.5V448.5H93.5V448.5H94.5V448.5H95.5V448.5H96.5V448.5H97.5V447.5H97.5V446.5H98.5V446.5H99.5V445.5H100.5V445.5H101.5V445.5H102.5V444.5H103.5V444.5H104.5V443.5H105.5V443.5H106.5V442.5H107.5V442.5H108.5V441.5H109.5V441.5H110.5V441.5H111.5V441.5H112.5V441.5H113.5V441.5H114.5V441.5H115.5V441.5H116.5V441.5H117.5V441.5H118.5V441.5H119.5V441.5H120.5V440.5H121.5V440.5H122.5V440.5H123.5V440.5H124.5V440.5H125.5V440.5H126.5V440.5H127.5V440.5H128.5V440.5H129.5V440.5H130.5V440.5H131.5V440.5H132.5V440.5H133.5V440.5H134.5V440.5H135.5V440.5H136.5V440.5H137.5V440.5H138.5V440.5H139.5V440.5H140.5V440.5H141.5V439.5H142.5V439.5H143.5V439.5H144.5V439.5H145.5V438.5H146.5V438.5H147.5V438.5H148.5V438.5H149.5V438.5H150.5V438.5H151.5V438.5H152.5V438.5H153.5V437.5H154.5V437.5H155.5V437.5H156.5V437.5H157.5V437.5H158.5V437.5H159.5V436.5H160.5V436.5H161.5V436.5H162.5V436.5H163.5V436.5H164.5V436.5H165.5V435.5H166.5V435.5H167.5V435.5H168.5V435.5H169.5V435.5H170.5V435.5H171.5V435.5H172.5V435.5H173.5V435.5H174.5V435.5H175.5V435.5H176.5V435.5H177.5V435.5H178.5V435.5H179.5V435.5H180.5V435.5H181.5V435.5H182.5V435.5H183.5V435.5H184.5V435.5H185.5V435.5H186.5V435.5H187.5V435.5H188.5V435.5H189.5V435.5H190.5V435.5H191.5V435.5H192.5V435.5H193.5V435.5H194.5V435.5H195.5V435.5H196.5V435.5H197.5V435.5H198.5V435.5H199.5V435.5H200.5V435.5H201.5V435.5H202.5V435.5H203.5V435.5H204.5V435.5H205.5V435.5H206.5V435.5H207.5V435.5H208.5V435.5H209.5V435.5H210.5V435.5H210.5V434.5H211.5V434.5H212.5V434.5H213.5V434.5H214.5V434.5H215.5V434.5H216.5V434.5H217.5V434.5H218.5V434.5H219.5V434.5H220.5V434.5H221.5V434.5H222.5V434.5H223.5V434.5H224.5V434.5H225.5V434.5H226.5V434.5H227.5V434.5H228.5V434.5H229.5V434.5H230.5V434.5H231.5V434.5H232.5V434.5H233.5V434.5H234.5V434.5H235.5V434.5H236.5V434.5H236.5V433.5H237.5V433.5H238.5V433.5H239.5V433.5H240.5V433.5H241.5V433.5H242.5V433.5H243.5V433.5H244.5V433.5H245.5V433.5H246.5V433.5H247.5V433.5H248.5V433.5H249.5V433.5H250.5V433.5" fill="none" stroke="#ad1038" stroke-width="1.3" stroke-linejoin="miter"/>
<path d="M53.5,463.5H54.5V463.5H55.5V463.5H56.5V463.5H57.5V463.5H58.5V463.5H59.5V463.5H60.5V463.5H61.5V463.5H62.5V463.5H63.5V462.5H64.5V462.5H65.5V462.5H66.5V462.5H67.5V462.5H68.5V462.5H69.5V462.5H70.5V462.5H71.5V462.5H72.5V462.5H73.5V462.5H74.5V462.5H75.5V462.5H76.5V462.5H77.5V462.5H78.5V461.5H79.5V460.5H79.5V459.5H80.5V458.5H81.5V458.5H82.5V458.5H83.5V457.5H84.5V457.5H85.5V457.5H86.5V457.5H87.5V457.5H88.5V457.5H89.5V457.5H90.5V457.5H91.5V457.5H92.5V457.5H93.5V457.5H94.5V457.5H95.5V457.5H96.5V457.5H97.5V457.5H98.5V457.5H99.5V456.5H100.5V456.5H101.5V456.5H102.5V456.5H103.5V456.5H104.5V456.5H105.5V456.5H106.5V456.5H107.5V455.5H107.5V454.5H108.5V454.5H109.5V454.5H110.5V454.5H111.5V454.5H112.5V454.5H113.5V454.5H114.5V454.5H115.5V454.5H116.5V454.5H117.5V453.5H118.5V453.5H119.5V453.5H120.5V453.5H121.5V453.5H122.5V453.5H123.5V453.5H124.5V453.5H125.5V453.5H126.5V453.5H127.5V453.5H128.5V453.5H129.5V453.5H130.5V453.5H131.5V453.5H132.5V453.5H133.5V453.5H134.5V453.5H135.5V453.5H136.5V453.5H137.5V453.5H137.5V452.5H138.5V452.5H139.5V452.5H140.5V452.5H141.5V452.5H142.5V452.5H143.5V452.5H144.5V452.5H145.5V452.5H146.5V452.5H147.5V452.5H148.5V452.5H149.5V452.5H150.5V451.5H151.5V451.5H152.5V450.5H153.5V450.5H153.5V450.5H154.5V450.5H155.5V450.5H156.5V450.5H157.5V450.5H158.5V450.5H159.5V450.5H160.5V450.5H161.5V450.5H162.5V450.5H163.5V450.5H164.5V449.5H165.5V449.5H166.5V448.5H167.5V448.5H168.5V448.5H169.5V448.5H170.5V448.5H171.5V448.5H172.5V448.5H173.5V447.5H174.5V446.5H175.5V446.5H176.5V446.5H177.5V446.5H178.5V446.5H179.5V445.5H180.5V445.5H181.5V445.5H182.5V445.5H183.5V445.5H184.5V445.5H185.5V445.5H186.5V445.5H187.5V445.5H188.5V445.5H189.5V445.5H190.5V445.5H191.5V445.5H192.5V445.5H193.5V445.5H194.5V445.5H195.5V445.5H196.5V445.5H197.5V445.5H198.5V445.5H199.5V445.5H200.5V445.5H201.5V445.5H202.5V445.5H203.5V445.5H204.5V445.5H205.5V445.5H206.5V445.5H207.5V445.5H208.5V445.5H209.5V445.5H210.5V445.5H211.5V445.5H212.5V445.5H213.5V445.5H214.5V445.5H215.5V445.5H216.5V445.5H217.5V445.5H218.5V445.5H219.5V445.5H220.5V445.5H221.5V445.5H222.5V445.5H223.5V445.5H224.5V445.5H225.5V445.5H226.5V445.5H227.5V445.5H228.5V445.5H229.5V445.5H230.5V445.5H231.5V445.5H232.5V445.5H233.5V445.5H234.5V445.5H235.5V445.5H236.5V445.5H237.5V445.5H238.5V445.5H239.5V445.5H240.5V445.5H241.5V445.5H242.5V445.5H243.5V445.5H244.5V445.5H245.5V445.5H246.5V445.5H247.5V445.5H248.5V445.5H249.5V445.5H250.5V445.5" fill="none" stroke="#234585" stroke-width="1.3" stroke-linejoin="miter"/>
<text x="275" y="280" font-size="12" font-weight="bold" fill="#000">D</text>
<line x1="305.2" y1="281.7" x2="305.2" y2="470.5" stroke="#231f20" stroke-width="1.1"/>
<line x1="301.9" y1="470.40" x2="305.2" y2="470.40" stroke="#231f20" stroke-width="0.9"/>
<text x="298.9" y="473.00" font-size="8.6" text-anchor="end" fill="#231f20" style="stroke-width:0.15px" textLength="10.76" lengthAdjust="spacingAndGlyphs">0.0</text>
<line x1="301.9" y1="433.22" x2="305.2" y2="433.22" stroke="#231f20" stroke-width="0.9"/>
<text x="298.9" y="435.82" font-size="8.6" text-anchor="end" fill="#231f20" style="stroke-width:0.15px" textLength="10.76" lengthAdjust="spacingAndGlyphs">0.2</text>
<line x1="301.9" y1="396.04" x2="305.2" y2="396.04" stroke="#231f20" stroke-width="0.9"/>
<text x="298.9" y="398.64" font-size="8.6" text-anchor="end" fill="#231f20" style="stroke-width:0.15px" textLength="10.76" lengthAdjust="spacingAndGlyphs">0.4</text>
<line x1="301.9" y1="358.86" x2="305.2" y2="358.86" stroke="#231f20" stroke-width="0.9"/>
<text x="298.9" y="361.46" font-size="8.6" text-anchor="end" fill="#231f20" style="stroke-width:0.15px" textLength="10.76" lengthAdjust="spacingAndGlyphs">0.6</text>
<line x1="301.9" y1="321.68" x2="305.2" y2="321.68" stroke="#231f20" stroke-width="0.9"/>
<text x="298.9" y="324.28" font-size="8.6" text-anchor="end" fill="#231f20" style="stroke-width:0.15px" textLength="10.76" lengthAdjust="spacingAndGlyphs">0.8</text>
<line x1="301.9" y1="284.50" x2="305.2" y2="284.50" stroke="#231f20" stroke-width="0.9"/>
<text x="298.9" y="287.10" font-size="8.6" text-anchor="end" fill="#231f20" style="stroke-width:0.15px" textLength="10.76" lengthAdjust="spacingAndGlyphs">1.0</text>
<line x1="302" y1="470.5" x2="511.9" y2="470.5" stroke="#231f20" stroke-width="1.1"/>
<line x1="305.30" y1="470.5" x2="305.30" y2="473.7" stroke="#231f20" stroke-width="0.9"/>
<text x="305.30" y="483.2" font-size="8.8" text-anchor="middle" fill="#231f20" style="stroke-width:0.15px" textLength="4.50" lengthAdjust="spacingAndGlyphs">0</text>
<text x="305.30" y="521" font-size="8.6" text-anchor="middle" fill="#231f20" textLength="13.63" lengthAdjust="spacingAndGlyphs">186</text>
<text x="305.30" y="532" font-size="8.6" text-anchor="middle" fill="#231f20" textLength="13.63" lengthAdjust="spacingAndGlyphs">182</text>
<line x1="330.70" y1="470.5" x2="330.70" y2="473.7" stroke="#231f20" stroke-width="0.9"/>
<text x="330.70" y="483.2" font-size="8.8" text-anchor="middle" fill="#231f20" style="stroke-width:0.15px" textLength="4.50" lengthAdjust="spacingAndGlyphs">3</text>
<text x="330.70" y="521" font-size="8.6" text-anchor="middle" fill="#231f20" textLength="13.63" lengthAdjust="spacingAndGlyphs">166</text>
<text x="330.70" y="532" font-size="8.6" text-anchor="middle" fill="#231f20" textLength="13.63" lengthAdjust="spacingAndGlyphs">174</text>
<line x1="356.10" y1="470.5" x2="356.10" y2="473.7" stroke="#231f20" stroke-width="0.9"/>
<text x="356.10" y="483.2" font-size="8.8" text-anchor="middle" fill="#231f20" style="stroke-width:0.15px" textLength="4.50" lengthAdjust="spacingAndGlyphs">6</text>
<text x="356.10" y="521" font-size="8.6" text-anchor="middle" fill="#231f20" textLength="13.63" lengthAdjust="spacingAndGlyphs">140</text>
<text x="356.10" y="532" font-size="8.6" text-anchor="middle" fill="#231f20" textLength="13.63" lengthAdjust="spacingAndGlyphs">154</text>
<line x1="381.50" y1="470.5" x2="381.50" y2="473.7" stroke="#231f20" stroke-width="0.9"/>
<text x="381.50" y="483.2" font-size="8.8" text-anchor="middle" fill="#231f20" style="stroke-width:0.15px" textLength="4.50" lengthAdjust="spacingAndGlyphs">9</text>
<text x="381.50" y="521" font-size="8.6" text-anchor="middle" fill="#231f20" textLength="13.63" lengthAdjust="spacingAndGlyphs">124</text>
<text x="381.50" y="532" font-size="8.6" text-anchor="middle" fill="#231f20" textLength="13.63" lengthAdjust="spacingAndGlyphs">133</text>
<line x1="406.90" y1="470.5" x2="406.90" y2="473.7" stroke="#231f20" stroke-width="0.9"/>
<text x="406.90" y="483.2" font-size="8.8" text-anchor="middle" fill="#231f20" style="stroke-width:0.15px" textLength="9.00" lengthAdjust="spacingAndGlyphs">12</text>
<text x="406.90" y="521" font-size="8.6" text-anchor="middle" fill="#231f20" textLength="13.63" lengthAdjust="spacingAndGlyphs">112</text>
<text x="406.90" y="532" font-size="8.6" text-anchor="middle" fill="#231f20" textLength="13.63" lengthAdjust="spacingAndGlyphs">123</text>
<line x1="432.30" y1="470.5" x2="432.30" y2="473.7" stroke="#231f20" stroke-width="0.9"/>
<text x="432.30" y="483.2" font-size="8.8" text-anchor="middle" fill="#231f20" style="stroke-width:0.15px" textLength="9.00" lengthAdjust="spacingAndGlyphs">15</text>
<text x="432.30" y="521" font-size="8.6" text-anchor="middle" fill="#231f20" textLength="9.09" lengthAdjust="spacingAndGlyphs">92</text>
<text x="432.30" y="532" font-size="8.6" text-anchor="middle" fill="#231f20" textLength="9.09" lengthAdjust="spacingAndGlyphs">98</text>
<line x1="457.70" y1="470.5" x2="457.70" y2="473.7" stroke="#231f20" stroke-width="0.9"/>
<text x="457.70" y="483.2" font-size="8.8" text-anchor="middle" fill="#231f20" style="stroke-width:0.15px" textLength="9.00" lengthAdjust="spacingAndGlyphs">18</text>
<text x="457.70" y="521" font-size="8.6" text-anchor="middle" fill="#231f20" textLength="9.09" lengthAdjust="spacingAndGlyphs">80</text>
<text x="457.70" y="532" font-size="8.6" text-anchor="middle" fill="#231f20" textLength="9.09" lengthAdjust="spacingAndGlyphs">93</text>
<line x1="483.10" y1="470.5" x2="483.10" y2="473.7" stroke="#231f20" stroke-width="0.9"/>
<text x="483.10" y="483.2" font-size="8.8" text-anchor="middle" fill="#231f20" style="stroke-width:0.15px" textLength="9.00" lengthAdjust="spacingAndGlyphs">21</text>
<text x="483.10" y="521" font-size="8.6" text-anchor="middle" fill="#231f20" textLength="9.09" lengthAdjust="spacingAndGlyphs">73</text>
<text x="483.10" y="532" font-size="8.6" text-anchor="middle" fill="#231f20" textLength="9.09" lengthAdjust="spacingAndGlyphs">91</text>
<line x1="508.50" y1="470.5" x2="508.50" y2="473.7" stroke="#231f20" stroke-width="0.9"/>
<text x="508.50" y="483.2" font-size="8.8" text-anchor="middle" fill="#231f20" style="stroke-width:0.15px" textLength="9.00" lengthAdjust="spacingAndGlyphs">24</text>
<text x="508.50" y="521" font-size="8.6" text-anchor="middle" fill="#231f20" textLength="9.09" lengthAdjust="spacingAndGlyphs">63</text>
<text x="508.50" y="532" font-size="8.6" text-anchor="middle" fill="#231f20" textLength="9.09" lengthAdjust="spacingAndGlyphs">82</text>
<text x="408.40" y="497" font-size="10.2" style="stroke-width:0.05px" text-anchor="middle" fill="#231f20" textLength="94.0" lengthAdjust="spacingAndGlyphs">Months post randomization</text>
<text x="280.52" y="509.2" font-size="8.6" text-anchor="middle" fill="#231f20" textLength="29.9" lengthAdjust="spacingAndGlyphs">N at risk</text>
<text x="284.70" y="521" font-size="8.6" text-anchor="middle" fill="#231f20" textLength="21.6" lengthAdjust="spacingAndGlyphs">dUCB</text>
<text x="284.70" y="532" font-size="8.6" text-anchor="middle" fill="#231f20" textLength="21.6" lengthAdjust="spacingAndGlyphs">Haplo</text>
<text transform="translate(282.7,375.65) rotate(-90)" x="0" y="0" font-size="10.2" style="stroke-width:0.05px" text-anchor="middle" fill="#231f20" textLength="51.9" lengthAdjust="spacingAndGlyphs">Overall survival</text>
<text x="445.3" y="328.3" font-size="8.3" fill="#231f20" style="stroke-width:0.1px" textLength="24.4" lengthAdjust="spacingAndGlyphs">P=0.04</text>
<path d="M305.5,284.5H306.5V285.5H307.5V285.5H308.5V285.5H309.5V285.5H310.5V285.5H311.5V285.5H312.5V285.5H313.5V286.5H314.5V286.5H315.5V287.5H316.5V288.5H317.5V289.5H318.5V289.5H319.5V290.5H320.5V290.5H321.5V290.5H322.5V291.5H323.5V291.5H324.5V292.5H325.5V293.5H326.5V294.5H327.5V295.5H327.5V296.5H328.5V297.5H328.5V298.5H328.5V299.5H329.5V300.5H330.5V300.5H331.5V301.5H332.5V302.5H333.5V303.5H334.5V304.5H334.5V305.5H335.5V306.5H336.5V306.5H337.5V307.5H338.5V308.5H338.5V309.5H339.5V310.5H340.5V310.5H341.5V311.5H342.5V311.5H343.5V312.5H344.5V313.5H345.5V314.5H345.5V315.5H346.5V316.5H346.5V317.5H346.5V318.5H346.5V319.5H347.5V320.5H348.5V320.5H349.5V321.5H350.5V322.5H351.5V323.5H351.5V324.5H352.5V325.5H353.5V326.5H354.5V326.5H355.5V327.5H356.5V327.5H357.5V328.5H358.5V329.5H359.5V330.5H360.5V331.5H361.5V332.5H362.5V332.5H363.5V333.5H364.5V334.5H365.5V335.5H366.5V336.5H367.5V336.5H368.5V336.5H369.5V336.5H370.5V336.5H371.5V336.5H372.5V337.5H373.5V338.5H374.5V339.5H375.5V339.5H376.5V340.5H377.5V341.5H378.5V341.5H379.5V342.5H380.5V342.5H381.5V343.5H382.5V343.5H383.5V344.5H384.5V345.5H385.5V345.5H386.5V345.5H387.5V345.5H388.5V346.5H389.5V346.5H390.5V346.5H391.5V346.5H392.5V346.5H393.5V346.5H394.5V347.5H395.5V348.5H396.5V349.5H397.5V350.5H398.5V351.5H399.5V352.5H400.5V353.5H401.5V353.5H402.5V353.5H403.5V354.5H404.5V354.5H405.5V354.5H406.5V354.5H407.5V354.5H408.5V354.5H409.5V354.5H410.5V355.5H411.5V356.5H412.5V356.5H413.5V357.5H414.5V357.5H415.5V357.5H416.5V358.5H417.5V359.5H418.5V360.5H419.5V360.5H420.5V360.5H421.5V360.5H422.5V360.5H423.5V360.5H424.5V361.5H425.5V361.5H426.5V362.5H427.5V363.5H428.5V363.5H429.5V364.5H430.5V364.5H431.5V364.5H432.5V364.5H433.5V364.5H434.5V365.5H434.5V366.5H435.5V367.5H436.5V367.5H437.5V368.5H438.5V368.5H439.5V368.5H440.5V368.5H441.5V368.5H442.5V368.5H443.5V369.5H444.5V369.5H444.5V370.5H445.5V371.5H445.5V372.5H446.5V373.5H447.5V373.5H448.5V373.5H449.5V373.5H450.5V373.5H451.5V373.5H452.5V373.5H453.5V373.5H454.5V374.5H455.5V374.5H456.5V374.5H457.5V374.5H458.5V374.5H459.5V374.5H460.5V374.5H461.5V374.5H462.5V374.5H463.5V374.5H464.5V375.5H465.5V375.5H466.5V375.5H467.5V375.5H468.5V376.5H469.5V376.5H470.5V377.5H471.5V378.5H472.5V378.5H473.5V379.5H474.5V379.5H475.5V379.5H476.5V379.5H477.5V379.5H478.5V379.5H479.5V379.5H480.5V379.5H481.5V379.5H482.5V380.5H483.5V380.5H484.5V381.5H485.5V381.5H486.5V381.5H487.5V382.5H488.5V382.5H489.5V382.5H490.5V382.5H491.5V383.5H492.5V383.5H493.5V383.5H494.5V383.5H495.5V384.5H496.5V384.5H497.5V384.5H498.5V384.5H499.5V385.5H500.5V385.5H501.5V385.5H502.5V385.5H503.5V385.5H504.5V385.5H505.5V385.5H506.5V385.5H507.5V385.5H508.5V385.5" fill="none" stroke="#ad1038" stroke-width="1.3" stroke-linejoin="miter"/>
<path d="M453.9,372.6V375.4M456.5,372.7V375.5M504.6,384.1V386.9M506.7,384.1V386.9M508.4,384.1V386.9" fill="none" stroke="#ad1038" stroke-width="0.9"/>
<path d="M305.5,284.5H306.5V284.5H307.5V284.5H308.5V284.5H309.5V284.5H310.5V284.5H311.5V284.5H312.5V284.5H313.5V285.5H314.5V285.5H315.5V286.5H316.5V286.5H317.5V286.5H318.5V286.5H319.5V286.5H320.5V286.5H321.5V286.5H322.5V286.5H323.5V286.5H324.5V287.5H325.5V287.5H326.5V288.5H327.5V288.5H328.5V288.5H329.5V288.5H330.5V288.5H331.5V289.5H332.5V290.5H333.5V291.5H333.5V292.5H334.5V293.5H335.5V294.5H336.5V295.5H337.5V296.5H337.5V297.5H338.5V298.5H338.5V299.5H339.5V300.5H340.5V301.5H341.5V302.5H342.5V302.5H343.5V302.5H344.5V302.5H345.5V302.5H346.5V303.5H347.5V303.5H348.5V304.5H349.5V304.5H350.5V305.5H350.5V306.5H351.5V307.5H352.5V307.5H353.5V308.5H354.5V309.5H355.5V309.5H356.5V309.5H357.5V309.5H358.5V309.5H359.5V310.5H360.5V311.5H361.5V312.5H361.5V313.5H362.5V314.5H363.5V314.5H364.5V314.5H365.5V314.5H366.5V314.5H367.5V315.5H368.5V315.5H369.5V315.5H370.5V316.5H371.5V316.5H372.5V317.5H372.5V318.5H373.5V319.5H374.5V320.5H374.5V321.5H375.5V322.5H375.5V323.5H376.5V324.5H376.5V325.5H377.5V326.5H378.5V326.5H379.5V327.5H379.5V328.5H380.5V329.5H381.5V329.5H382.5V329.5H383.5V329.5H384.5V329.5H385.5V329.5H386.5V330.5H387.5V330.5H388.5V330.5H389.5V330.5H390.5V331.5H391.5V331.5H392.5V332.5H393.5V333.5H394.5V333.5H395.5V334.5H396.5V334.5H397.5V334.5H398.5V334.5H399.5V334.5H400.5V334.5H401.5V335.5H402.5V335.5H403.5V336.5H404.5V337.5H405.5V337.5H406.5V338.5H407.5V338.5H408.5V339.5H409.5V339.5H410.5V340.5H411.5V340.5H412.5V341.5H413.5V341.5H414.5V342.5H415.5V343.5H416.5V343.5H417.5V344.5H418.5V345.5H419.5V345.5H420.5V346.5H421.5V347.5H422.5V347.5H423.5V348.5H424.5V348.5H425.5V349.5H426.5V350.5H427.5V350.5H428.5V350.5H429.5V350.5H430.5V350.5H431.5V350.5H432.5V350.5H433.5V351.5H434.5V352.5H435.5V352.5H436.5V352.5H437.5V352.5H438.5V352.5H439.5V353.5H440.5V353.5H441.5V353.5H442.5V353.5H443.5V353.5H444.5V353.5H445.5V353.5H446.5V353.5H447.5V353.5H448.5V353.5H449.5V354.5H450.5V354.5H451.5V354.5H452.5V355.5H453.5V355.5H454.5V356.5H455.5V356.5H456.5V357.5H457.5V357.5H458.5V357.5H459.5V357.5H460.5V357.5H461.5V357.5H462.5V357.5H463.5V357.5H464.5V357.5H465.5V357.5H466.5V357.5H467.5V357.5H468.5V357.5H469.5V357.5H470.5V357.5H471.5V358.5H472.5V359.5H473.5V359.5H474.5V359.5H475.5V359.5H476.5V359.5H477.5V359.5H478.5V359.5H479.5V359.5H480.5V359.5H481.5V359.5H482.5V359.5H483.5V359.5H484.5V359.5H485.5V359.5H486.5V359.5H487.5V359.5H488.5V359.5H489.5V359.5H490.5V359.5H491.5V360.5H492.5V360.5H493.5V360.5H494.5V361.5H495.5V361.5H496.5V361.5H497.5V362.5H498.5V362.5H499.5V362.5H500.5V363.5H501.5V363.5H502.5V363.5H503.5V364.5H504.5V364.5H505.5V364.5H506.5V364.5H507.5V364.5H508.5V364.5" fill="none" stroke="#234585" stroke-width="1.3" stroke-linejoin="miter"/>
<path d="M483.2,358.1V360.9M500.0,361.6V364.4M502.5,362.1V364.9M508.4,363.1V365.9" fill="none" stroke="#234585" stroke-width="0.9"/>
<line x1="57.2" y1="150.2" x2="74.5" y2="150.2" stroke="#ad1038" stroke-width="1.1" opacity="0.85"/>
<text x="77.5" y="152.4" font-size="7.6" fill="#231f20">dUCB</text>
<line x1="57.2" y1="161.2" x2="74.5" y2="161.2" stroke="#234585" stroke-width="1.1" opacity="0.85"/>
<text x="77.5" y="163.3" font-size="7.6" fill="#231f20">haplo-BM</text>
</svg>
</body></html>
